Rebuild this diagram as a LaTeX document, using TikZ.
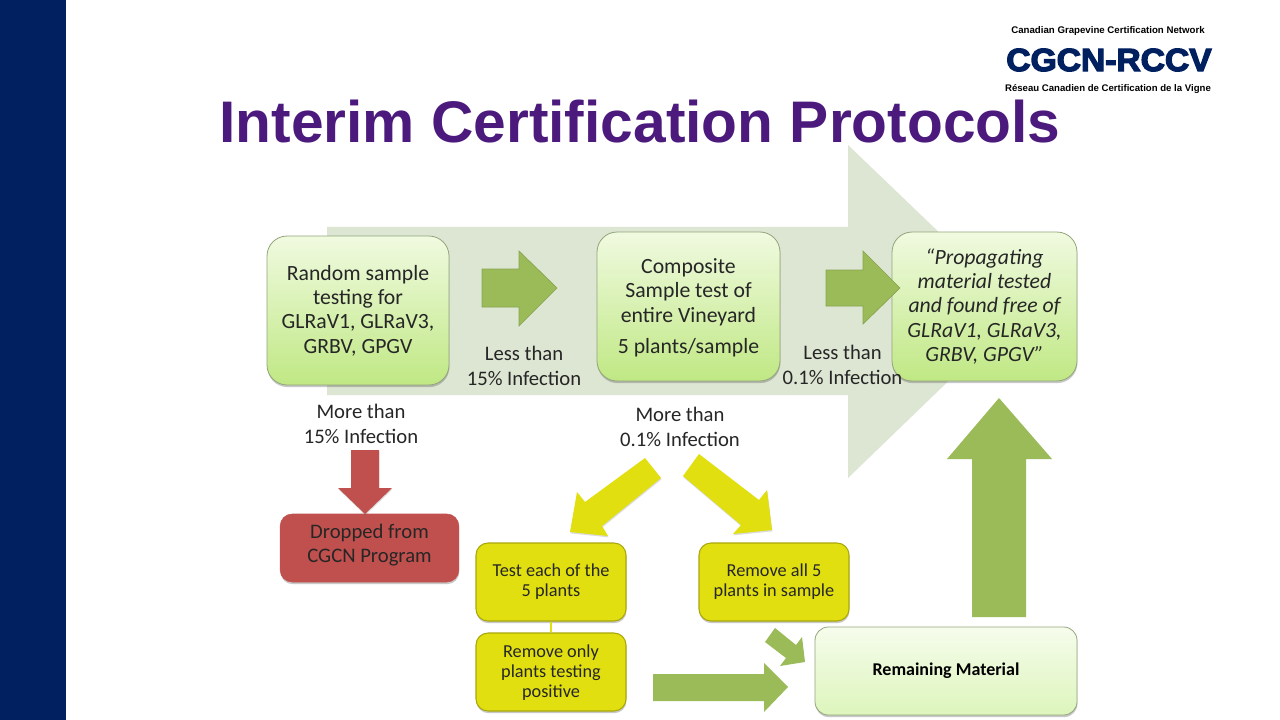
\documentclass[tikz,border=0pt]{standalone}
\usepackage{fontspec}
\setmainfont{Carlito}
\newfontfamily\headfont{Liberation Sans}
\newfontfamily\logofont[FakeBold=4,FakeStretch=1.05]{Liberation Sans}
\usetikzlibrary{shadows}
\definecolor{navybar}{HTML}{002060}
\definecolor{titlepurple}{HTML}{4B1A7C}
\definecolor{bigarrow}{HTML}{DDE5D3}
\definecolor{leaf}{HTML}{9BBB59}
\definecolor{brick}{HTML}{C0504D}
\definecolor{lime}{HTML}{E1DF10}
\definecolor{boxtop}{HTML}{F0FAE0}
\definecolor{boxmid}{HTML}{DFF4B8}
\definecolor{boxbot}{HTML}{C0E884}
\definecolor{paletop}{HTML}{F6FCEC}
\definecolor{palemid}{HTML}{EDF9DB}
\definecolor{palebot}{HTML}{DDF5BC}
\definecolor{txt}{HTML}{262626}
\definecolor{boxline}{HTML}{93A57A}
\tikzset{
  softshadow/.style={drop shadow={shadow xshift=0.3pt,shadow yshift=-1.6pt,opacity=.3,fill=black!70}},
  arrowshadow/.style={drop shadow={shadow xshift=0.3pt,shadow yshift=-1pt,opacity=.2,fill=black!70}},
  greenbox/.style={draw=boxline,line width=.6pt,rounded corners=15pt,top color=boxtop,middle color=boxmid,bottom color=boxbot,softshadow,inner sep=0pt,align=center,text=black!85},
  yellowbox/.style={draw=black!25!lime,line width=.8pt,rounded corners=9pt,fill=lime,softshadow,inner sep=0pt,align=center,font=\fontsize{13.7}{15}\selectfont,text=txt},
  yellowtext/.style={inner sep=0pt,align=center,font=\fontsize{13.7}{15}\selectfont,text=txt},
  redbox/.style={draw=brick,rounded corners=9pt,fill=brick,softshadow,inner sep=0pt,align=center,font=\fontsize{15.5}{18.5}\selectfont,text=txt},
  label/.style={align=center,inner sep=0pt,font=\fontsize{15.5}{18.5}\selectfont,text=txt},
  blockgreen/.style={fill=leaf,draw=black!12!leaf,line width=.5pt},
  blockred/.style={fill=brick,arrowshadow},
  blockyellow/.style={fill=lime,arrowshadow},
  mainsize/.style={font=\fontsize{16.3}{18.3}\selectfont}
}
\begin{document}
\begin{tikzpicture}[x=0.75pt,y=-0.75pt]
\useasboundingbox (0,0) rectangle (1280,720);
\fill[white] (0,0) rectangle (1280,720);
\fill[navybar] (0,0) rectangle (66,720);
% logo
\node[inner sep=0pt,font=\headfont\bfseries\fontsize{7.25}{8}\selectfont] (logotop) at (1108,31) {Canadian Grapevine Certification Network};
\node[inner sep=0pt,text=navybar,font=\logofont\bfseries\fontsize{24}{26}\selectfont] (logomain) at (1109,60) {CGCN-RCCV};
\node[inner sep=0pt,font=\headfont\bfseries\fontsize{7.2}{8}\selectfont] (logobot) at (1108,89) {Réseau Canadien de Certification de la Vigne};
% title
\node[inner sep=0pt,text=titlepurple,font=\headfont\bfseries\fontsize{44}{50}\selectfont] (title) at (640,122) {Interim Certification Protocols};
% large background arrow
\fill[bigarrow] (327,227) -- (848,227) -- (848,145) -- (1021,311) -- (848,478) -- (848,395) -- (327,395) -- cycle;
% boxes
\node[greenbox,mainsize,minimum width=136.5pt,minimum height=111.7pt] (random) at (358,310.5) {Random sample\\testing for\\GLRaV1, GLRaV3,\\GRBV, GPGV};
\node[greenbox,mainsize,minimum width=137.2pt,minimum height=111.7pt] (composite) at (688.5,306.5) {};
\node[inner sep=0pt,align=center,mainsize,text=black!85] (compositetext) at (688.5,292) {Composite\\Sample test of\\entire Vineyard};
\node[inner sep=0pt,mainsize,text=black!85] (compositesub) at (688.5,348) {5 plants/sample};
\node[greenbox,mainsize,minimum width=138.7pt,minimum height=111.7pt] (free) at (984.5,306.5) {\itshape ``Propagating\\\itshape material tested\\\itshape and found free of\\\itshape GLRaV1, GLRaV3,\\\itshape GRBV, GPGV''};
\node[redbox,minimum width=134pt,minimum height=51pt] (dropped) at (369.5,548) {};
\node[inner sep=0pt,align=center,font=\fontsize{15.5}{18.5}\selectfont,text=txt] (droppedtext) at (369.5,545) {Dropped from\\CGCN Program};
\node[yellowbox,minimum width=112.5pt,minimum height=58.5pt] (testeach) at (551,582) {};
\node[yellowtext] (testtext) at (551,582) {Test each of the\\5 plants};
\node[yellowbox,minimum width=112.5pt,minimum height=58.5pt] (removeonly) at (551,672) {};
\node[yellowtext] (onlytext) at (551,673) {Remove only\\plants testing\\positive};
\node[yellowbox,minimum width=112.5pt,minimum height=58.5pt] (removeall) at (774,582) {};
\node[yellowtext] (alltext) at (774,582) {Remove all 5\\plants in sample};
\node[greenbox,rounded corners=10pt,top color=paletop,middle color=palemid,bottom color=palebot,minimum width=196.5pt,minimum height=66pt,font=\bfseries\fontsize{13.5}{15}\selectfont,text=black] (remaining) at (946,671) {Remaining Material};
\draw[lime,line width=2pt] (testeach) -- (removeonly);
% labels
\node[label] (lt15) at (524,366) {Less than\\15\% Infection};
\node[label] (lt01) at (842.5,365) {Less than\\0.1\% Infection};
\node[label] (mt15) at (361,424) {More than\\15\% Infection};
\node[label] (mt01) at (680,427) {More than\\0.1\% Infection};
% block arrows
\draw[blockgreen] (482,269) -- (519,269) -- (519,251) -- (557,288) -- (519,326) -- (519,307) -- (482,307) -- cycle;
\draw[blockgreen] (826,270) -- (863,270) -- (863,251) -- (900,288) -- (863,324) -- (863,306) -- (826,306) -- cycle;
\fill[leaf] (999,398) -- (1052,459) -- (1026,459) -- (1026,617) -- (972,617) -- (972,459) -- (947,459) -- cycle;
\fill[blockred] (351,450) -- (379,450) -- (379,488) -- (392,488) -- (365,514) -- (338,488) -- (351,488) -- cycle;
\fill[blockyellow] (645,458) -- (661,478) -- (602,526) -- (608,536) -- (570,532) -- (577,492) -- (585,502) -- cycle;
\fill[blockyellow] (699,454) -- (683,476) -- (741,525) -- (733,534) -- (772,530) -- (767,490) -- (759,500) -- cycle;
\fill[leaf] (653,674) -- (764,674) -- (764,663) -- (788,687) -- (764,712) -- (764,701) -- (653,701) -- cycle;
\fill[leaf] (775,628) -- (765,642) -- (786,658) -- (780,666) -- (805,662) -- (802,637) -- (796,645) -- cycle;
\end{tikzpicture}
\end{document}
